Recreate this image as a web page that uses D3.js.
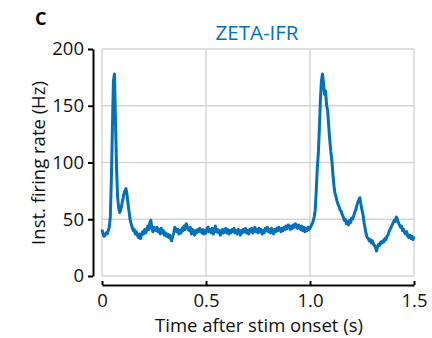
<!DOCTYPE html>
<html><head><meta charset="utf-8">
<script src="https://cdn.jsdelivr.net/npm/d3@7"></script>
<style>
html,body{margin:0;padding:0;background:#fff;}
svg{display:block;font-family:"Open Sans",sans-serif;}
</style></head>
<body>
<svg id="c" width="432" height="338"></svg>
<script>
// time step 0.005 s, from 0 to 1.5 s
const timeStep = 0.005;
const rate = [
41,37,35,36,38,37,40,43,52,85,
130,172,178,135,95,70,60,56,58,63,
67,72,75,77,72,64,57,50,46,43,
40,41,37,39,36,34,37,33,36,39,
37,41,38,40,44,41,47,49,42,39,
43,42,40,43,39,41,37,42,38,40,
36,38,35,37,34,36,33,31,35,38,
43,41,39,41,37,40,38,42,40,44,
41,46,43,41,40,43,37,41,39,36,
40,38,41,39,42,40,38,41,37,40,
38,42,43,39,41,38,42,37,40,44,
39,41,38,40,36,39,41,38,40,42,
38,41,37,40,38,41,39,42,38,40,
37,41,39,36,40,38,41,39,42,38,
40,37,41,39,42,38,40,43,39,41,
38,42,39,41,37,40,38,42,40,43,
39,41,38,42,40,37,41,39,42,40,
43,41,39,42,40,43,41,44,42,45,
43,41,44,42,45,43,46,44,42,45,
43,41,44,40,43,39,42,40,43,41,
42,44,46,48,52,58,75,95,108,130,
155,172,178,170,160,163,150,146,132,120,
110,102,90,80,73,70,66,63,61,58,
57,54,52,49,50,46,48,45,49,47,
51,50,53,56,58,62,65,67,69,63,
58,54,47,42,37,34,33,31,32,29,
31,28,27,25,22,26,28,27,30,29,
31,30,33,32,35,36,39,41,43,45,
47,49,48,52,50,47,45,43,44,40,
41,38,37,39,35,34,36,33,35,32,
35
];
const xTicks = [0, 0.5, 1.0, 1.5];
const xTickLabels = ["0", "0.5", "1.0", "1.5"];
const yTicks = [0, 50, 100, 150, 200];

const data = rate.map((v, i) => ({t: i * timeStep, v}));

const svg = d3.select("#c");
const x = d3.scaleLinear().domain([0, 1.5]).range([102, 414]);
const y = d3.scaleLinear().domain([0, 200]).range([276, 49]);
const blue = "#0072BD";

// plot box + grid
const g = svg.append("g");
g.selectAll("line.gx").data(xTicks).join("line")
  .attr("x1", d => x(d)).attr("x2", d => x(d)).attr("y1", y(0)).attr("y2", y(200))
  .attr("stroke", "#d6d6d6").attr("stroke-width", 1.5);
g.selectAll("line.gy").data(yTicks).join("line")
  .attr("y1", d => y(d)).attr("y2", d => y(d)).attr("x1", x(0)).attr("x2", x(1.5))
  .attr("stroke", "#d6d6d6").attr("stroke-width", 1.5);

// trace
g.append("path").datum(data)
  .attr("fill", "none").attr("stroke", blue).attr("stroke-width", 3)
  .attr("stroke-linejoin", "round")
  .attr("d", d3.line().x(d => x(d.t)).y(d => y(d.v)));

// y axis
const yAx = svg.append("g").attr("transform", "translate(93,0)")
  .call(d3.axisLeft(y).tickValues(yTicks).tickSize(5).tickPadding(4).tickSizeOuter(0));
yAx.select(".domain").attr("stroke", "#000").attr("stroke-width", 2);
yAx.selectAll(".tick line").attr("stroke", "#000").attr("stroke-width", 2);
yAx.selectAll("text").attr("font-size", 18.5).attr("fill", "#111").attr("font-family", "Open Sans");

// x axis
const xAx = svg.append("g").attr("transform", "translate(0,285)")
  .call(d3.axisBottom(x).tickValues(xTicks).tickFormat((d, i) => xTickLabels[i]).tickSize(-4).tickPadding(9).tickSizeOuter(0));
xAx.select(".domain").attr("stroke", "#000").attr("stroke-width", 2);
xAx.selectAll(".tick line").attr("stroke", "#000").attr("stroke-width", 2);
xAx.selectAll("text").attr("font-size", 18.5).attr("fill", "#111").attr("font-family", "Open Sans");

// labels
svg.append("text").attr("x", 259).attr("y", 332).attr("text-anchor", "middle")
  .attr("font-size", 18.5).attr("fill", "#111").text("Time after stim onset (s)");
svg.append("text").attr("transform", "translate(45,163) rotate(-90)").attr("text-anchor", "middle")
  .attr("font-size", 18.5).attr("fill", "#111").text("Inst. firing rate (Hz)");
svg.append("text").attr("x", 257).attr("y", 40).attr("text-anchor", "middle")
  .attr("font-size", 20.5).attr("fill", blue).text("ZETA-IFR");
svg.append("text").attr("x", 35).attr("y", 25).attr("font-size", 18).attr("font-weight", "bold")
  .attr("fill", "#000").text("C");
</script>
</body></html>
